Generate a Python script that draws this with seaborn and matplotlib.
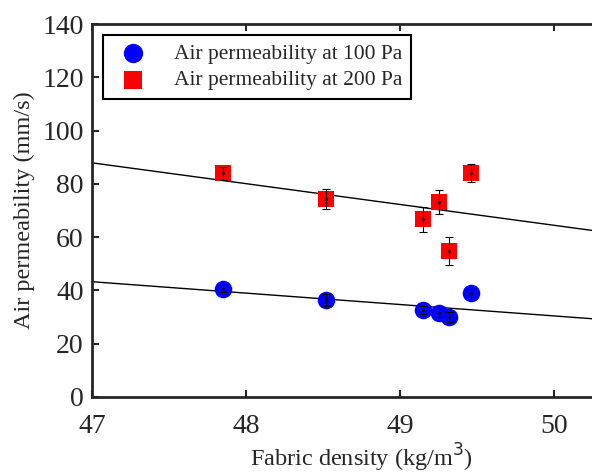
import matplotlib
matplotlib.use("Agg")
import matplotlib.pyplot as plt
import seaborn as sns
import pandas as pd

# fabric density (kg/m3) and air permeability (mm/s)
density = [47.85, 48.52, 49.15, 49.25, 49.32, 49.46]
perm_100 = [40.7, 36.4, 32.6, 31.5, 30.0, 39.0]
err_100 = [1.4, 2.2, 1.5, 1.5, 2.0, 1.5]
perm_200 = [84.0, 74.3, 66.8, 73.2, 54.8, 84.0]
err_200 = [2.5, 3.8, 4.7, 4.5, 5.3, 3.3]

df = pd.DataFrame({"density": density, "p100": perm_100, "p200": perm_200})

sns.set_style("ticks")
plt.rcParams["font.family"] = ["Liberation Serif", "DejaVu Serif"]

fig = plt.figure(figsize=(5.92, 4.76), dpi=100)
# axes runs past the right edge of the picture, like the cropped original
ax = fig.add_axes([92 / 592, 79 / 476, (631 - 92) / 592, 373 / 476])
ax.set_xlim(47, 50.5)
ax.set_ylim(0, 140)

# linear fits across the full x range
sns.regplot(data=df, x="density", y="p200", scatter=False, ci=None, truncate=False,
            color="black", line_kws={"lw": 1}, ax=ax)
sns.regplot(data=df, x="density", y="p100", scatter=False, ci=None, truncate=False,
            color="black", line_kws={"lw": 1}, ax=ax)

sns.scatterplot(data=df, x="density", y="p100", marker="o", color="#0000ff", s=160,
                linewidth=0, label="Air permeability at 100 Pa", ax=ax, zorder=3)
sns.scatterplot(data=df, x="density", y="p200", marker="s", color="#ff0000", s=130,
                linewidth=0, label="Air permeability at 200 Pa", ax=ax, zorder=3)

ax.errorbar(density, perm_100, yerr=err_100, fmt=".", color="black", ms=2,
            elinewidth=0.8, capsize=3, capthick=0.8, zorder=4)
ax.errorbar(density, perm_200, yerr=err_200, fmt=".", color="black", ms=2,
            elinewidth=0.8, capsize=3, capthick=0.8, zorder=4)

ax.set_xticks([47, 48, 49, 50])
ax.set_yticks(range(0, 141, 20))
ax.tick_params(direction="in", length=5, width=1.5, labelsize=20, top=True, right=True)
ax.tick_params(axis="x", pad=12)
ax.tick_params(axis="y", pad=6)
for sp in ax.spines.values():
    sp.set_linewidth(2)
ax.set_xlabel("Fabric density (kg/m$^3$)", fontsize=17.5, labelpad=2)
ax.set_ylabel("Air permeability (mm/s)", fontsize=17.5, labelpad=5)

leg = ax.legend(loc="upper left", bbox_to_anchor=(0.02, 0.97), fontsize=15.5,
                frameon=True, fancybox=False, edgecolor="black", framealpha=1,
                handletextpad=0.9, borderpad=0.4, labelspacing=0.3, markerscale=1.1,
                borderaxespad=0)
leg.get_frame().set_linewidth(1.5)

fig.savefig("out.png", dpi=100)
